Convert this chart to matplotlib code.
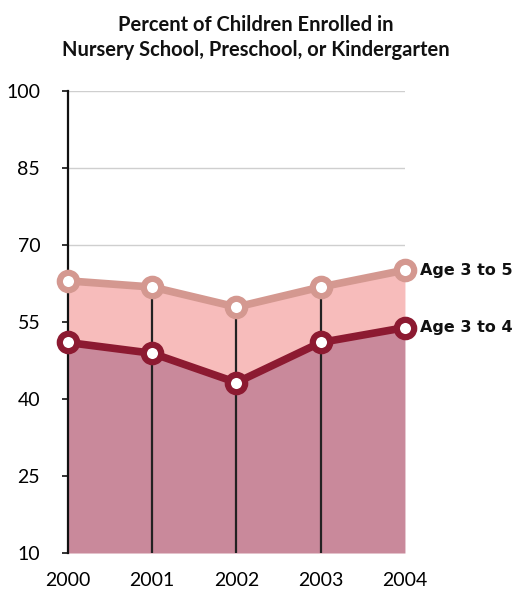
import matplotlib
matplotlib.use("Agg")
import matplotlib.pyplot as plt
from matplotlib import font_manager

years = [2000, 2001, 2002, 2003, 2004]
age_3_to_5 = [63.0, 61.8, 57.9, 61.8, 65.1]
age_3_to_4 = [51.0, 48.9, 43.2, 51.0, 53.9]
y_ticks = [10, 25, 40, 55, 70, 85, 100]
series_labels = ["Age 3 to 5", "Age 3 to 4"]
title = "Percent of Children Enrolled in\nNursery School, Preschool, or Kindergarten"

names = {f.name for f in font_manager.fontManager.ttflist}
tick_font = "Lato" if "Lato" in names else "DejaVu Sans"

fig = plt.figure(figsize=(5.29, 5.94), dpi=100)
ax = fig.add_axes([0.1285, 0.069, 0.637, 0.778])

c_upper_line = "#d49890"
c_upper_fill = "#f7bcbb"
c_lower_line = "#8c1a31"
c_lower_fill = "#c9899b"

ax.set_xlim(2000, 2004)
ax.set_ylim(10, 100)

for t in y_ticks[1:]:
    ax.axhline(t, color="#cfcfcf", lw=1.0, zorder=0)

ax.fill_between(years, 10, age_3_to_4, color=c_lower_fill, lw=0, zorder=1)
ax.fill_between(years, age_3_to_4, age_3_to_5, color=c_upper_fill, lw=0, zorder=1)

ax.vlines(years[1:-1], 10, age_3_to_5[1:-1], color="#222222", lw=1.6, zorder=2)

ax.plot(years, age_3_to_5, color=c_upper_line, lw=5.5, marker="o", ms=12.5,
        mfc="white", mec=c_upper_line, mew=4.5, zorder=4, clip_on=False)
ax.plot(years, age_3_to_4, color=c_lower_line, lw=5.5, marker="o", ms=12.5,
        mfc="white", mec=c_lower_line, mew=4.5, zorder=5, clip_on=False)

for vals, lab in zip([age_3_to_5, age_3_to_4], series_labels):
    ax.annotate(lab, (years[-1], vals[-1]), xytext=(11, 0),
                textcoords="offset points", va="center", ha="left",
                fontsize=11.5, fontweight="bold", family="DejaVu Sans",
                color="#111111", annotation_clip=False)

for s in ["top", "right", "bottom"]:
    ax.spines[s].set_visible(False)
ax.spines["left"].set_color("#111111")
ax.spines["left"].set_linewidth(1.6)
ax.spines["left"].set_zorder(3)

ax.set_yticks(y_ticks)
ax.set_yticklabels([str(t) for t in y_ticks], fontsize=14, family=tick_font)
ax.set_xticks(years)
ax.set_xticklabels([str(y) for y in years], fontsize=14, family=tick_font)
ax.tick_params(axis="y", length=4, width=1.2, pad=16, color="#111111")
ax.tick_params(axis="x", length=0, pad=14)

fig.text(0.484, 0.975, title, ha="center", va="top", fontsize=14.5,
         family=tick_font, fontweight="bold", linespacing=1.3, color="#111111")

fig.savefig("out.png", dpi=100)
